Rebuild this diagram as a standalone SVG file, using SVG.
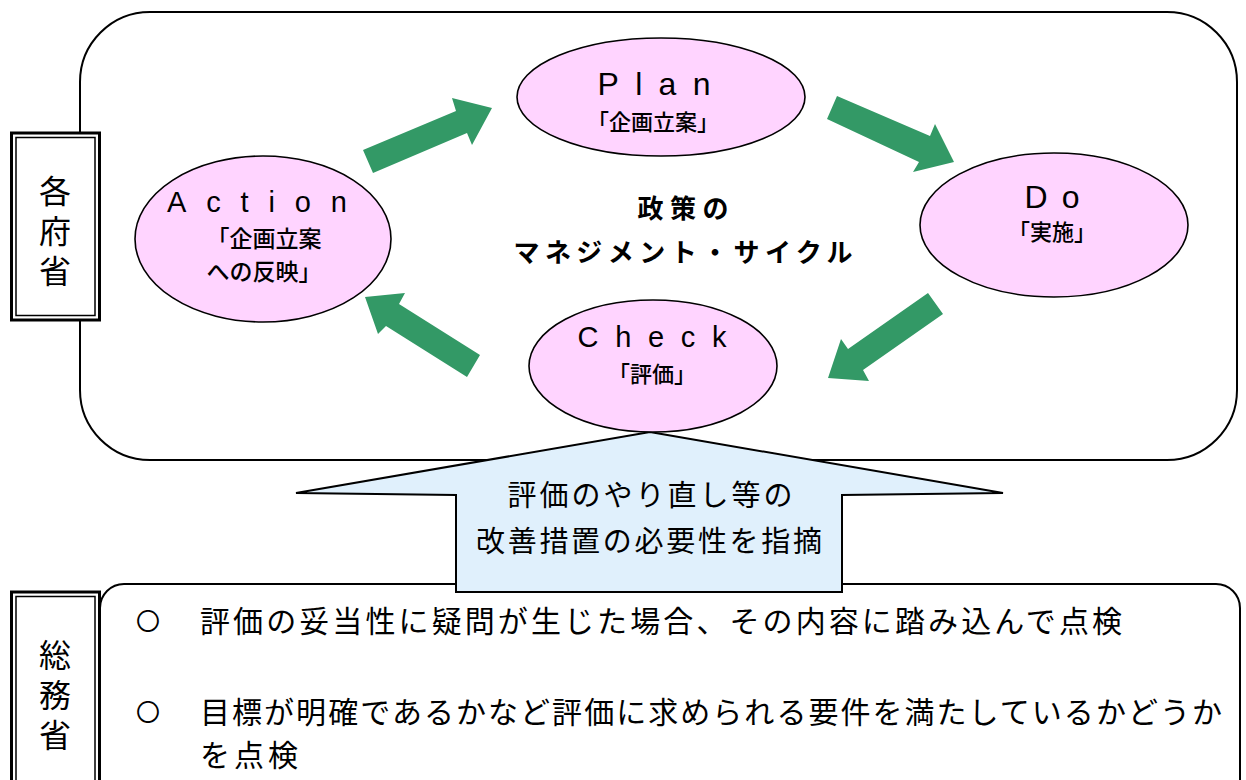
<svg xmlns="http://www.w3.org/2000/svg" width="1246" height="780" viewBox="0 0 1246 780">
<style>
.frame{fill:#fff;stroke:#000;stroke-width:2}
.ell{fill:#FFD4FF;stroke:#000;stroke-width:1.6}
.garrow{fill:#339966}
.barrow{fill:#E0F0FC;stroke:#000;stroke-width:2}
.lat{font-family:"Liberation Sans",Arial,sans-serif;fill:#000}
.jp{font-family:"Noto Sans CJK JP","Noto Sans CJK SC",sans-serif;fill:#000}
.ej{font-weight:500}
.vert{writing-mode:vertical-rl}
.outer{fill:#fff;stroke:#000;stroke-width:3}
.inner{fill:none;stroke:#000;stroke-width:1.5}
</style>
<rect width="1246" height="780" fill="#fff"/>
<g id="cycle-frame">
<rect class="frame" x="80" y="12" width="1157" height="448" rx="70" ry="70"/>
</g>
<g id="somusho-frame">
<rect class="frame" x="100" y="584" width="1140" height="230" rx="24" ry="24"/>
</g>
<g id="connectors">
<polygon class="garrow" points="363,150 456,111 452,98 492,108 472,145 467,133 373,173"/>
<polygon class="garrow" points="837,96 930,136 935,124 954,162 913,172 919,162 827,119"/>
<polygon class="garrow" points="928,293 943,314 863,370 869,381 828,378 841,339 848,349"/>
<polygon class="garrow" points="365,297 405,293 399,304 480,355 467,377 386,326 378,334"/>
<polygon class="barrow" points="650,432 1003,493 842,495 842,592 456,592 456,495 296,493"/>
<text class="jp" x="650" y="506" font-size="29" text-anchor="middle" textLength="285" lengthAdjust="spacing">評価のやり直し等の</text>
<text class="jp" x="649" y="552" font-size="29" text-anchor="middle" textLength="346" lengthAdjust="spacing">改善措置の必要性を指摘</text>
</g>
<g id="plan">
<ellipse class="ell" cx="661" cy="97" rx="144" ry="59"/>
<text class="lat" x="654" y="95" font-size="32" text-anchor="middle" textLength="113" lengthAdjust="spacing">Plan</text>
<text class="jp ej" x="653" y="130" font-size="22" text-anchor="middle">「企画立案」</text>
</g>
<g id="do">
<ellipse class="ell" cx="1054" cy="225" rx="134" ry="72"/>
<text class="lat" x="1052" y="208" font-size="32" text-anchor="middle" textLength="55" lengthAdjust="spacing">Do</text>
<text class="jp ej" x="1052" y="240" font-size="22" text-anchor="middle">「実施」</text>
</g>
<g id="check">
<ellipse class="ell" cx="653" cy="366" rx="124" ry="66"/>
<text class="lat" x="652" y="347" font-size="29" text-anchor="middle" textLength="149" lengthAdjust="spacing">Check</text>
<text class="jp ej" x="652" y="382" font-size="22" text-anchor="middle">「評価」</text>
</g>
<g id="action">
<ellipse class="ell" cx="263" cy="239" rx="128" ry="83"/>
<text class="lat" x="257" y="212" font-size="29" text-anchor="middle" textLength="180" lengthAdjust="spacing">Action</text>
<text class="jp ej" x="264" y="247" font-size="23" text-anchor="middle">「企画立案</text>
<text class="jp ej" x="264" y="280" font-size="23" text-anchor="middle">への反映」</text>
</g>
<g id="center-label">
<text class="jp" x="683" y="218" font-size="26" font-weight="bold" text-anchor="middle" textLength="91" lengthAdjust="spacing">政策の</text>
<text class="jp" x="683" y="262" font-size="26" font-weight="bold" text-anchor="middle" textLength="339" lengthAdjust="spacing">マネジメント・サイクル</text>
</g>
<g id="kakufusho">
<rect class="outer" x="11.5" y="133" width="88" height="187"/>
<rect class="inner" x="16" y="137.5" width="79" height="178"/>
<text class="jp vert" x="55" y="231" font-size="32" text-anchor="middle" textLength="112" lengthAdjust="spacing">各府省</text>
</g>
<g id="somusho">
<rect class="outer" x="11.5" y="592" width="88" height="220"/>
<rect class="inner" x="16" y="596.5" width="79" height="220"/>
<text class="jp vert" x="55" y="695" font-size="32" text-anchor="middle" textLength="112" lengthAdjust="spacing">総務省</text>
</g>
<g id="somusho-text">
<text class="jp" x="148" y="630" font-size="24" text-anchor="middle">〇</text>
<text class="jp" x="200" y="632" font-size="30" textLength="922" lengthAdjust="spacing">評価の妥当性に疑問が生じた場合、その内容に踏み込んで点検</text>
<text class="jp" x="148" y="721" font-size="24" text-anchor="middle">〇</text>
<text class="jp" x="200" y="723" font-size="30" textLength="1022" lengthAdjust="spacing">目標が明確であるかなど評価に求められる要件を満たしているかどうか</text>
<text class="jp" x="200" y="766" font-size="30" textLength="98" lengthAdjust="spacing">を点検</text>
</g>
</svg>
